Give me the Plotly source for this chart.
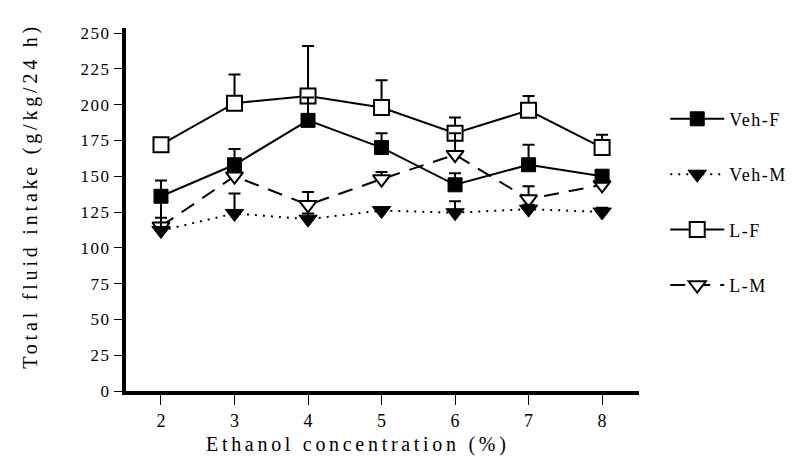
import plotly.graph_objects as go

conc = [2, 3, 4, 5, 6, 7, 8]

veh_f = [136, 158, 189, 170, 144, 158, 150]
veh_f_err = [11, 11, 16, 10, 8, 14, 4]

veh_m = [112, 124, 120, 126, 124.5, 127, 125]
veh_m_err = [9, 14, 4, 2, 8, 3, 3]

l_f = [172, 201, 206, 198, 180, 196, 170]
l_f_err = [3, 20, 35, 19, 11, 10, 9]

l_m = [115, 150, 130, 148, 165, 134, 144]
l_m_err = [20, 8, 9, 5, 15, 9, 3]

y_ticks = [0, 25, 50, 75, 100, 125, 150, 175, 200, 225, 250]
x_title = "Ethanol concentration (%)"
y_title = "Total fluid intake (g/kg/24 h)"

FONT = "Liberation Serif"

W, H = 796, 457
ML, MR, MT, MB = 118, 150, 20, 74
PW, PH = W - ML - MR, H - MT - MB


def spaced(text, px):
    return '<span style="letter-spacing:%spx">%s</span>' % (px, text)


def err(vals):
    return dict(type="data", array=vals, arrayminus=[0] * len(vals), symmetric=False,
                color="black", thickness=2, width=6)


fig = go.Figure()

# drawing order: L-F, L-M, Veh-F, Veh-M ; legend order via legendrank
fig.add_trace(go.Scatter(
    x=conc, y=l_f, name=spaced("L-F", 1.5), mode="lines+markers", legendrank=3, legendgroup="c",
    line=dict(color="black", width=2),
    marker=dict(symbol="square", size=15, color="white", line=dict(color="black", width=2)),
    error_y=err(l_f_err)))
fig.add_trace(go.Scatter(
    x=conc, y=l_m, name=spaced("L-M", 1.5), mode="lines+markers", legendrank=4, legendgroup="d",
    line=dict(color="black", width=2, dash="15px,10px"),
    marker=dict(symbol="triangle-down", size=15, color="white", line=dict(color="black", width=2)),
    error_y=err(l_m_err)))
fig.add_trace(go.Scatter(
    x=conc, y=veh_f, name=spaced("Veh-F", 1.5), mode="lines+markers", legendrank=1, legendgroup="a",
    line=dict(color="black", width=2),
    marker=dict(symbol="square", size=14, color="black", line=dict(color="black", width=1)),
    error_y=err(veh_f_err)))
fig.add_trace(go.Scatter(
    x=conc, y=veh_m, name=spaced("Veh-M", 1.5), mode="lines+markers", legendrank=2, legendgroup="b",
    line=dict(color="black", width=2, dash="2px,6px"),
    marker=dict(symbol="triangle-down", size=16, color="black", line=dict(color="black", width=1)),
    error_y=err(veh_m_err)))

fig.update_layout(
    width=W, height=H,
    margin=dict(l=ML, r=MR, t=MT, b=MB),
    paper_bgcolor="white", plot_bgcolor="white",
    font=dict(family=FONT, color="black", size=17),
    showlegend=True,
    legend=dict(x=(673 - ML) / PW, xanchor="left",
                y=0.80, yanchor="top",
                font=dict(family=FONT, size=18, color="black"),
                tracegroupgap=29, bgcolor="rgba(0,0,0,0)", itemwidth=54),
    xaxis=dict(
        range=[1.524, 8.502], tickmode="array", tickvals=conc,
        ticktext=[str(v) for v in conc],
        ticks="outside", ticklen=10, tickwidth=1, tickcolor="black",
        showline=True, linecolor="black", linewidth=4, showgrid=False, zeroline=False,
        tickfont=dict(family=FONT, size=18)),
    yaxis=dict(
        range=[0, 253.5], tickmode="array", tickvals=y_ticks,
        ticktext=[spaced(str(v), 1.5) for v in y_ticks],
        ticks="outside", ticklen=8, tickwidth=1, tickcolor="black",
        showline=True, linecolor="black", linewidth=4, showgrid=False, zeroline=False,
        tickfont=dict(family=FONT, size=17)),
    annotations=[
        dict(text=spaced(x_title, 3.7), xref="paper", yref="paper",
             x=(357 - ML) / PW, y=-(436 - (MT + PH)) / PH, xanchor="center", yanchor="middle",
             showarrow=False, font=dict(family=FONT, size=20, color="black")),
        dict(text=spaced(y_title, 3.8), xref="paper", yref="paper", textangle=-90,
             x=-(ML - 19) / PW, y=((MT + PH) - 188) / PH, xanchor="center", yanchor="middle",
             showarrow=False, font=dict(family=FONT, size=20, color="black")),
    ],
)

fig.write_html("out.html")
